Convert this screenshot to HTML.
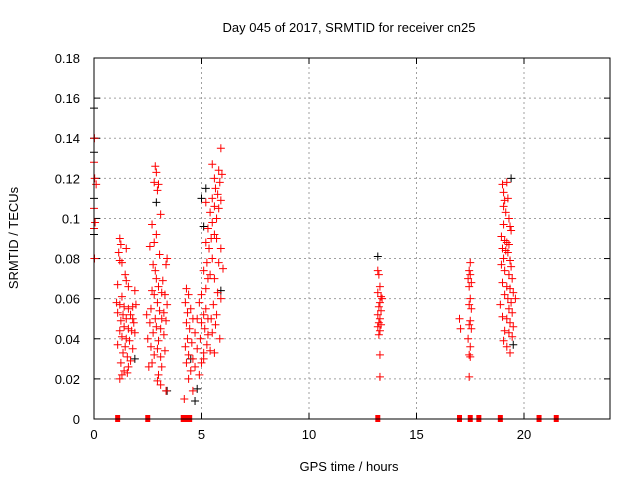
<!DOCTYPE html>
<html><head><meta charset="utf-8"><style>
html,body{margin:0;padding:0;background:#fff}
svg{display:block;font-family:"Liberation Sans",sans-serif}
</style></head><body>
<svg id="chart" width="640" height="480" viewBox="0 0 640 480">
<rect width="640" height="480" fill="#fff"/>
<text x="349" y="32" font-size="13" text-anchor="middle">Day 045 of 2017, SRMTID for receiver cn25</text>
<text x="349" y="471" font-size="13" text-anchor="middle">GPS time / hours</text>
<text transform="translate(18,238) rotate(-90)" font-size="13" text-anchor="middle">SRMTID / TECUs</text>
<g id="grid"></g>
<g id="axes"></g>
<g id="black"></g>
<g id="red"></g>
<rect x="94" y="58" width="516" height="361" fill="none" stroke="#000" stroke-width="1"/>
</svg>
<script>
const xTicks=[0,5,10,15,20];
const yTicks=[0,0.02,0.04,0.06,0.08,0.1,0.12,0.14,0.16,0.18];
const yTickLabels=["0","0.02","0.04","0.06","0.08","0.1","0.12","0.14","0.16","0.18"];
const redPts=[[0.02,0.14],[0.0,0.128],[0.03,0.12],[0.1,0.117],[0.0,0.105],[0.05,0.098],[0.0,0.095],[0.02,0.08],
[1.2,0.09],[1.25,0.087],[1.15,0.083],[1.5,0.085],[1.2,0.079],[1.3,0.078],[1.45,0.072],[1.5,0.069],[1.1,0.067],[1.6,0.066],[1.9,0.064],[1.3,0.061],[1.2,0.057],[1.4,0.056],[1.6,0.055],[1.8,0.056],[1.95,0.057],[1.1,0.053],[1.35,0.052],[1.7,0.052],[1.5,0.05],[1.25,0.049],[1.85,0.048],[1.4,0.046],[1.6,0.045],[1.2,0.044],[1.75,0.044],[1.9,0.043],[1.3,0.041],[1.5,0.04],[1.65,0.039],[1.1,0.037],[1.45,0.036],[1.8,0.035],[1.35,0.033],[1.55,0.031],[1.7,0.029],[1.25,0.028],[1.6,0.026],[1.4,0.024],[1.3,0.022],[1.55,0.023],[1.2,0.02],[1.8,0.05],[1.05,0.058],
[2.85,0.126],[2.9,0.123],[2.8,0.118],[2.95,0.114],[3.0,0.117],[3.1,0.102],[2.7,0.097],[2.9,0.092],[2.8,0.088],[2.6,0.086],[3.05,0.082],[3.4,0.08],[2.75,0.077],[2.85,0.074],[3.35,0.077],[2.9,0.07],[3.2,0.069],[3.0,0.066],[2.7,0.064],[3.15,0.063],[2.8,0.062],[3.3,0.062],[2.95,0.058],[3.4,0.057],[2.65,0.055],[3.05,0.054],[3.25,0.053],[2.85,0.05],[3.15,0.05],[2.6,0.048],[3.35,0.049],[2.9,0.046],[3.1,0.045],[2.75,0.043],[3.25,0.042],[2.5,0.04],[3.0,0.039],[2.65,0.036],[2.95,0.035],[3.3,0.034],[2.8,0.032],[3.1,0.031],[2.7,0.028],[3.15,0.026],[2.55,0.026],[3.0,0.022],[2.95,0.019],[3.1,0.017],[3.35,0.014],[2.45,0.052],
[4.3,0.065],[4.4,0.062],[4.25,0.058],[4.5,0.055],[4.35,0.053],[4.6,0.05],[4.3,0.048],[4.45,0.045],[4.7,0.043],[4.35,0.04],[4.55,0.038],[4.25,0.036],[4.8,0.035],[4.4,0.032],[4.6,0.03],[4.3,0.028],[4.7,0.026],[4.5,0.024],[4.9,0.022],[4.4,0.02],[4.6,0.014],[4.2,0.01],[5.0,0.048],[5.1,0.052],[4.9,0.058],[5.2,0.055],[5.0,0.062],[4.8,0.05],[5.15,0.045],[5.3,0.042],[4.95,0.04],[5.25,0.037],[5.1,0.033],[5.4,0.034],[5.0,0.028],[5.2,0.065],[5.3,0.07],[5.1,0.074],[5.4,0.072],[5.25,0.078],[5.5,0.08],[5.35,0.085],[5.2,0.088],[5.45,0.09],[5.6,0.092],[5.3,0.095],[5.5,0.098],[5.7,0.1],[5.4,0.103],[5.6,0.106],[5.8,0.105],[5.2,0.108],[5.5,0.11],[5.75,0.112],[5.9,0.109],[5.65,0.115],[5.85,0.118],[5.6,0.12],[5.95,0.122],[5.8,0.124],[5.5,0.127],[5.9,0.135],[5.7,0.09],[5.9,0.085],[5.8,0.078],[6.0,0.075],[5.6,0.07],[5.75,0.063],[5.9,0.06],[5.55,0.057],[5.7,0.052],[5.45,0.05],[5.65,0.047],[5.5,0.043],[5.85,0.04],[5.3,0.05],[5.6,0.033],[5.1,0.03],
[13.2,0.074],[13.25,0.072],[13.3,0.066],[13.2,0.063],[13.35,0.061],[13.3,0.058],[13.25,0.056],[13.4,0.06],[13.2,0.052],[13.3,0.05],[13.25,0.048],[13.35,0.047],[13.2,0.046],[13.3,0.044],[13.25,0.042],[13.3,0.032],[13.3,0.021],[13.35,0.054],
[17.0,0.05],[17.05,0.045],[17.5,0.078],[17.45,0.074],[17.5,0.072],[17.4,0.07],[17.55,0.068],[17.45,0.066],[17.5,0.06],[17.45,0.057],[17.55,0.055],[17.5,0.049],[17.45,0.047],[17.55,0.045],[17.4,0.04],[17.5,0.036],[17.45,0.032],[17.5,0.031],[17.45,0.021],
[19.0,0.117],[19.2,0.118],[19.05,0.113],[19.1,0.109],[19.25,0.11],[19.05,0.106],[19.15,0.103],[19.3,0.1],[19.05,0.097],[19.35,0.096],[19.4,0.094],[18.95,0.091],[19.1,0.089],[19.2,0.088],[19.3,0.087],[19.0,0.085],[19.15,0.084],[19.25,0.083],[19.05,0.08],[19.35,0.079],[18.95,0.077],[19.4,0.076],[19.1,0.074],[19.3,0.072],[19.45,0.07],[19.0,0.068],[19.2,0.066],[19.35,0.065],[19.5,0.063],[19.1,0.062],[19.25,0.06],[19.4,0.058],[18.9,0.057],[19.3,0.055],[19.45,0.053],[19.0,0.051],[19.2,0.05],[19.35,0.048],[19.5,0.046],[19.1,0.044],[19.3,0.043],[19.45,0.041],[19.05,0.039],[19.2,0.036],[19.35,0.033],[19.6,0.06]];
const blackPts=[[0,0.155],[0,0.14],[0,0.133],[0,0.11],[0,0.092],[0.02,0.08],[4.7,0.009],[4.8,0.015],[5.0,0.11],[5.2,0.115],[5.1,0.096],[2.9,0.108],[19.4,0.12],[19.5,0.037],[13.2,0.081],[3.4,0.014],[1.9,0.03],[4.5,0.03],[5.9,0.064]];
const zeroTimes=[1.1,2.5,4.15,4.35,4.45,13.2,17.0,17.5,17.9,18.9,20.7,21.5];
const NS="http://www.w3.org/2000/svg";
const X0=94,X1=610,Y0=419,Y1=58,XMAX=24,YMAX=0.18;
function sx(v){return X0+(X1-X0)*v/XMAX;}
function sy(v){return Y0-(Y0-Y1)*v/YMAX;}
function mk(tag,attrs,parent){const e=document.createElementNS(NS,tag);for(const k in attrs)e.setAttribute(k,attrs[k]);parent.appendChild(e);return e;}
const grid=document.getElementById('grid'),axes=document.getElementById('axes');
xTicks.forEach(t=>{
  const x=sx(t);
  if(t>0){const g=mk('line',{x1:x,y1:Y0,x2:x,y2:Y1,stroke:'#a0a0a0','stroke-dasharray':'2,3'},grid);
  
  }
  mk('line',{x1:x,y1:Y0,x2:x,y2:Y0-6,stroke:'#000'},axes);
  mk('line',{x1:x,y1:Y1,x2:x,y2:Y1+6,stroke:'#000'},axes);
  const l=mk('text',{x:x,y:Y0+20,'font-size':13,'text-anchor':'middle'},axes);
  l.textContent=t;
  
  
});
yTicks.forEach((t,i)=>{
  const y=sy(t);
  if(t>0&&t<YMAX){const g=mk('line',{x1:X0,y1:y,x2:X1,y2:y,stroke:'#a0a0a0','stroke-dasharray':'2,3'},grid);
  
  }
  mk('line',{x1:X0,y1:y,x2:X0+6,y2:y,stroke:'#000'},axes);
  mk('line',{x1:X1,y1:y,x2:X1-6,y2:y,stroke:'#000'},axes);
  const l=mk('text',{x:X0-14,y:y+5,'font-size':13,'text-anchor':'end'},axes);
  l.textContent=yTickLabels[i];
  
  
});
function plus(g,x,y,c){
  const p=mk('path',{d:`M${x-4},${y}H${x+4}M${x},${y-4}V${y+4}`,stroke:c,'stroke-width':1,fill:'none'},g);
  return p;
}
const bg=document.getElementById('black'),rg=document.getElementById('red');
blackPts.forEach(p=>{
  const m=plus(bg,sx(p[0]),sy(p[1]),'#000');
  
  
});
redPts.forEach(p=>{
  const m=plus(rg,sx(p[0]),sy(p[1]),'#f00');
  
  
});
zeroTimes.forEach(t=>{
  const r=mk('rect',{x:sx(t)-2.5,y:Y0-4,width:5,height:7,fill:'#f00'},rg);
  
  
});
</script>
</body></html>
